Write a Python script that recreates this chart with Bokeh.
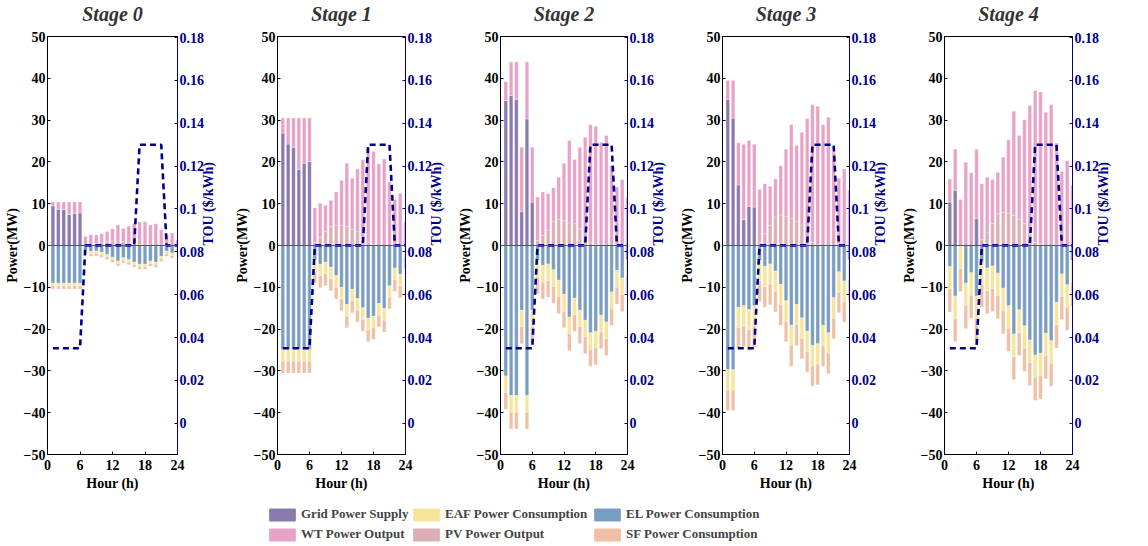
import math
from bokeh.plotting import figure
from bokeh.models import (Range1d, LinearAxis, FixedTicker, CustomJSTickFormatter, Span,
                          Legend, LegendItem, ColumnDataSource, Title)
from bokeh.layouts import row, column
from bokeh.embed import file_html
from bokeh.resources import INLINE

HOURS = list(range(1, 25))
TOU = [0.035, 0.035, 0.035, 0.035, 0.035, 0.035,
       0.083, 0.083, 0.083, 0.083, 0.083, 0.083, 0.083, 0.083, 0.083, 0.083,
       0.13, 0.13, 0.13, 0.13, 0.13,
       0.083, 0.083, 0.083]

STAGES = ["Stage 0", "Stage 1", "Stage 2", "Stage 3", "Stage 4"]

# Positive side (MW)
GRID = [
    [9.5, 8.7, 8.6, 7.4, 7.7, 7.8] + [0] * 18,
    [26.9, 24.3, 23.5, 18.2, 19.7, 20.1] + [0] * 18,
    [34.7, 35.9, 35.0, 8.1, 30.3, 10.4] + [0] * 18,
    [35.0, 30.5, 14.5, 6.2, 9.4, 9.2] + [0] * 18,
    [10.4, 13.2, 0, 0, 0, 6.4] + [0] * 18,
]
PV = [
    [0, 0, 0, 0, 0, 0, 0, 0.3, 0.5, 0.8, 1.0, 1.1, 1.1, 1.0, 0.8, 0.5, 0.2, 0, 0, 0, 0, 0, 0, 0],
    [0, 0, 0, 0, 0, 0, 0.8, 2.0, 3.4, 4.5, 4.9, 4.8, 4.5, 3.9, 3.3, 1.5, 0.8, 0.2, 0, 0, 0, 0, 0, 0],
    [0, 0, 0, 0, 0, 0, 1.2, 2.4, 3.7, 5.8, 6.3, 6.0, 5.4, 5.2, 4.0, 1.8, 0.8, 0.2, 0, 0, 0, 0, 0, 0],
    [0, 0, 0, 0, 0, 0, 0.8, 2.8, 4.8, 6.8, 7.3, 7.0, 6.4, 5.7, 4.9, 2.0, 0.8, 0.2, 0, 0, 0, 0, 0, 0],
    [0, 0, 0, 0, 0, 0, 1.4, 3.2, 5.3, 7.6, 7.9, 7.7, 7.2, 6.3, 5.2, 2.8, 0.8, 0.3, 0, 0, 0, 0, 0, 0],
]
WT = [
    [0.9, 1.7, 1.8, 3.0, 2.7, 2.6, 2.2, 2.3, 2.0, 2.0, 2.35, 2.9, 3.8, 3.15, 3.8, 4.7, 5.5, 5.7, 4.9, 5.2, 3.8, 2.6, 3.0, 1.4],
    [3.6, 6.2, 7.0, 12.3, 10.8, 10.4, 8.2, 8.1, 6.2, 6.3, 7.9, 10.8, 15.2, 12.2, 15.0, 19.0, 22.2, 22.3, 19.5, 20.7, 15.2, 11.0, 12.5, 5.6],
    [4.5, 8.0, 8.9, 15.4, 13.6, 13.1, 10.4, 10.4, 8.7, 8.0, 10.0, 13.7, 19.7, 15.4, 19.5, 24.1, 28.1, 28.3, 24.7, 26.3, 19.1, 14.0, 15.8, 11.4],
    [4.5, 9.0, 10.1, 18.0, 15.7, 15.0, 12.6, 12.0, 9.4, 9.1, 11.8, 16.0, 22.5, 18.2, 22.2, 28.3, 32.9, 33.1, 28.9, 30.7, 22.3, 16.1, 18.3, 13.2],
    [5.5, 9.8, 11.0, 19.9, 17.4, 16.6, 13.4, 13.1, 10.5, 9.9, 13.2, 17.6, 24.9, 20.0, 24.9, 30.7, 36.3, 36.4, 31.9, 33.7, 24.5, 17.7, 20.3, 14.5],
]
# Consumption side (MW, drawn downward)
EL = [
    [9.0, 9.0, 9.0, 9.0, 9.0, 9.0, 1.0, 1.4, 1.3, 1.6, 2.15, 2.8, 3.7, 2.95, 3.4, 4.0, 4.5, 4.5, 3.7, 4.0, 2.6, 1.4, 1.8, 0.2],
    [24.9, 24.9, 24.9, 24.9, 24.9, 24.9, 3.4, 4.5, 4.0, 5.2, 7.2, 10.0, 14.1, 10.5, 12.7, 14.9, 17.4, 16.9, 13.9, 15.1, 9.6, 5.4, 6.9, 0.0],
    [31.2, 35.9, 35.9, 15.5, 35.9, 15.5, 3.6, 4.8, 4.4, 5.8, 8.3, 11.7, 17.1, 12.6, 15.5, 17.9, 20.9, 20.5, 16.7, 18.3, 11.1, 6.0, 7.8, 3.4],
    [29.7, 29.7, 14.8, 14.4, 15.3, 14.4, 3.6, 5.0, 4.4, 6.1, 9.3, 13.2, 19.1, 14.1, 17.3, 20.5, 23.9, 23.5, 19.1, 20.9, 12.5, 6.3, 8.5, 3.4],
    [5.0, 12.1, 0.1, 9.0, 6.5, 12.1, 3.9, 5.4, 4.9, 6.6, 10.2, 14.4, 21.2, 15.4, 19.2, 22.6, 26.2, 25.8, 21.0, 22.8, 13.6, 6.8, 9.4, 3.6],
]
EAF = [
    [0.7] * 6 + [0.6] * 18,
    [2.8] * 24,
    [4.0] * 24,
    [4.9] * 24,
    [5.4] * 24,
]
SF = [
    [0.7] * 6 + [0.6] * 18,
    [2.8] * 24,
    [4.0] * 24,
    [4.9] * 24,
    [5.5] * 24,
]

Y_TICKS = [-50, -40, -30, -20, -10, 0, 10, 20, 30, 40, 50]
X_TICKS = [0, 6, 12, 18, 24]
TOU_TICKS = [0, 0.02, 0.04, 0.06, 0.08, 0.10, 0.12, 0.14, 0.16, 0.18]

C_GRID = "#8a7aae"
C_WT = "#e8a2c8"
C_PV = "#dcaeb6"
C_EAF = "#f7e49b"
C_EL = "#7a9ec2"
C_SF = "#f1bfa3"
NAVY = "#00008b"
FONT = "Liberation Serif"

FRAME_LEFT = [47, 275, 498, 720, 942]
FRAME_W = 130
LEFT_B = 44
TOP = 36
FRAME_H = 418
BOTTOM = 42
TOTAL_W = 1148


def style_axis(ax, color="black"):
    ax.major_label_text_font = FONT
    ax.major_label_text_font_style = "bold"
    ax.major_label_text_font_size = "14px"
    ax.major_label_text_color = color
    ax.axis_label_text_font = FONT
    ax.axis_label_text_font_style = "bold"
    ax.axis_label_text_font_size = "14px"
    ax.axis_label_text_color = color
    ax.axis_line_color = color
    ax.major_tick_line_color = color
    ax.major_tick_in = 3
    ax.major_tick_out = 0
    ax.minor_tick_line_color = None
    ax.major_label_standoff = 2
    ax.axis_label_standoff = 1


panels = []
for i, name in enumerate(STAGES):
    L = FRAME_LEFT[i] if i == 0 else LEFT_B
    start = FRAME_LEFT[i] - L
    end = (FRAME_LEFT[i + 1] - LEFT_B) if i < 4 else TOTAL_W
    R = end - FRAME_LEFT[i] - FRAME_W
    p = figure(width=end - start, height=TOP + FRAME_H + BOTTOM,
               x_range=Range1d(0, 24), y_range=Range1d(-50, 50),
               output_backend="svg", toolbar_location=None,
               min_border_left=L, min_border_right=R,
               min_border_top=TOP, min_border_bottom=BOTTOM)
    # spacer title next to the frame, then the stage title above it
    p.add_layout(Title(text=" ", text_font_size="9px", standoff=0), "above")
    p.add_layout(Title(text=name, text_font=FONT, text_font_style="bold italic",
                       text_font_size="20px", text_color="#333333", align="center",
                       standoff=0), "above")
    p.xgrid.visible = False
    p.ygrid.visible = False
    p.outline_line_color = "black"
    p.outline_line_width = 1
    p.background_fill_color = "white"

    p.extra_y_ranges = {"tou": Range1d(-0.0146, 0.1805)}

    src = ColumnDataSource(dict(
        hour=HOURS,
        grid=GRID[i], pv=PV[i], wt=WT[i],
        el=[-v for v in EL[i]], eaf=[-v for v in EAF[i]], sf=[-v for v in SF[i]],
    ))
    p.vbar_stack(["grid", "pv", "wt"], x="hour", width=0.66, source=src,
                 fill_color=[C_GRID, C_PV, C_WT], line_color="white", line_width=0.4,
                 line_alpha=0.6)
    p.vbar_stack(["el", "eaf", "sf"], x="hour", width=0.66, source=src,
                 fill_color=[C_EL, C_EAF, C_SF], line_color="white", line_width=0.4,
                 line_alpha=0.6)

    p.add_layout(Span(location=0, dimension="width", line_color="#555555", line_width=1.2))

    p.line(HOURS, TOU, y_range_name="tou", line_color=NAVY, line_width=2.6, line_dash="6 4")

    p.xaxis.ticker = FixedTicker(ticks=X_TICKS)
    p.yaxis.ticker = FixedTicker(ticks=Y_TICKS)
    p.xaxis.axis_label = "Hour (h)"
    p.yaxis.axis_label = "Power(MW)"
    for ax in p.xaxis + p.yaxis:
        style_axis(ax)
    p.xaxis.major_label_standoff = 5
    p.xaxis.axis_label_standoff = 3

    rax = LinearAxis(y_range_name="tou", axis_label="TOU ($/kWh)",
                     ticker=FixedTicker(ticks=TOU_TICKS),
                     formatter=CustomJSTickFormatter(code="return String(parseFloat(tick.toFixed(2)));"))
    style_axis(rax, NAVY)
    rax.axis_label_orientation = math.pi / 2
    rax.axis_label_text_align = "center"
    p.add_layout(rax, "right")
    panels.append(p)

# Legend strip
LEG_H = 546 - (TOP + FRAME_H + BOTTOM)
leg = figure(width=TOTAL_W, height=LEG_H, output_backend="svg", toolbar_location=None,
             x_range=Range1d(0, 1), y_range=Range1d(0, 1),
             x_axis_location=None, y_axis_location=None, min_border=0)
leg.outline_line_color = None
leg.xgrid.visible = False
leg.ygrid.visible = False

LEG_COLS = [
    [("Grid Power Supply", C_GRID), ("WT Power Output", C_WT)],
    [("EAF Power Consumption", C_EAF), ("PV Power Output", C_PV)],
    [("EL Power Consumption", C_EL), ("SF Power Consumption", C_SF)],
]
LEG_X = [266, 410, 591]
for col, lx in zip(LEG_COLS, LEG_X):
    items = []
    for label, c in col:
        r = leg.vbar(x=[5], top=[5], bottom=[4], width=0.5, fill_color=c, line_color=c)
        items.append(LegendItem(label=label, renderers=[r]))
    lg = Legend(items=items, location=(lx, 4), orientation="vertical",
                glyph_width=32, glyph_height=15, label_height=15, spacing=4,
                padding=0, margin=0, label_standoff=3,
                border_line_color=None, background_fill_alpha=0,
                label_text_font=FONT, label_text_font_style="bold",
                label_text_font_size="13px")
    leg.add_layout(lg, "center")

layout = column(row(*panels), leg)
open("out.html", "w").write(file_html(layout, INLINE))
